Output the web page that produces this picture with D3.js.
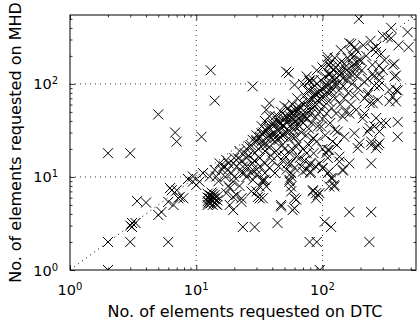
<!DOCTYPE html>
<html>
<head>
<meta charset="utf-8">
<script src="https://cdn.jsdelivr.net/npm/d3@7"></script>
<style>
  body { margin: 0; background: #fff; }
  text { font-family: "DejaVu Sans", sans-serif; fill: #000; }
</style>
</head>
<body>
<svg id="chart" width="418" height="327"></svg>
<script>
"use strict";

// axis labels and ticks
var xLabel = "No. of elements requested on DTC";
var yLabel = "No. of elements requested on MHD";
var majorTicks = [1, 10, 100];
var minorTicks = [2, 3, 4, 5, 6, 7, 8, 9, 20, 30, 40, 50, 60, 70, 80, 90, 200, 300, 400, 500];
var axisMin = 1, axisMax = 550;

// [DTC, MHD] pairs
// sparse points far from the diagonal
var outliers = [
    [2, 1], [95, 1],
    [2, 2], [3, 2], [6, 2], [79, 2], [90, 2], [235, 2],
    [2, 18], [3, 18],
    [5, 47], [6.8, 30], [7, 24], [11, 27], [13, 140], [14, 66], [28, 94],
    [44, 3.2], [23.4, 2.9], [29, 2.9], [104, 3.3], [117, 2.9], [163, 4.2], [243, 4.2],
    [47, 4.8], [60, 4.6], [58, 4.4], [22.8, 5.4], [47, 5], [62, 5.7],
    [194, 500], [472, 360], [480, 248], [394, 27], [394, 39], [243, 14], [163, 14], [136, 14.6]
];

// small values running along the diagonal
var lowDiagonal = [
    [3.1, 2.9], [3.1, 3.2], [3.3, 3.2], [3, 3],
    [3.4, 5.5], [4, 5.3],
    [5, 3.9], [5.3, 4.2], [6, 5.4], [6.6, 5], [6.2, 7.6], [7, 7.2], [7.2, 5.9], [7.9, 5.9], [7.4, 6.1], [6.4, 7.2],
    [8.6, 9.5], [9.4, 8.9], [10, 8.2], [10.6, 8.9], [12.8, 10.1], [14, 11.9], [15.3, 14], [16.8, 12.9],
    [17.3, 15.2], [14.4, 10.1], [11.3, 11], [9.4, 10.1]
];

// the solid blob near DTC 13, MHD 6
var blob = [
    [12.3, 5.0], [12.3, 5.5], [12.3, 6.0], [12.3, 6.6], [13, 5.2], [13, 5.7], [13, 6.3],
    [13.5, 5.0], [13.5, 5.5], [13.5, 6.1], [13.5, 6.6], [14, 5.3], [14, 5.8], [14, 6.4],
    [14.7, 5.0], [14.7, 5.6], [14.7, 6.2], [12.7, 5.9], [13.8, 5.9], [13.2, 6.8], [14.3, 5.1], [12.5, 5.3]
];

// points below the band, MHD between 4 and 15
var lowBand = [
    [17.3, 6.7], [19.6, 6.1], [19.6, 4.4], [18.4, 5], [20.8, 6.4], [22.8, 5.9], [18.4, 7.6], [19.6, 8.9],
    [30.8, 6.1], [31.8, 5.9], [33.7, 5.9], [30, 7], [27.3, 7], [33.7, 8.9], [35.9, 7.9], [31.8, 7.9],
    [56.5, 7.9], [56.5, 7], [60, 5.9], [54.8, 8.9], [84, 7], [91.8, 6.4], [89, 5.9], [94.5, 6.7],
    [113, 7.9], [124, 7.9], [124, 8.2], [117, 9.7], [120, 9.7], [113, 11.4], [110, 11], [100.5, 12.4],
    [145, 11.7], [70, 11.4], [80, 11.4], [56.5, 11], [56.5, 10.1], [53, 14], [34.8, 9.3], [28.1, 9.3],
    [54.8, 9.3], [33.7, 9.3], [27.3, 11], [23.4, 12.9],
    [23, 11], [25, 10], [28, 12], [30, 10.5], [32, 13], [35, 11], [38, 12.5], [42, 11], [45, 13],
    [48, 15], [52, 12], [56, 14], [60, 12.5], [25, 16], [29, 15], [40, 15], [44, 17], [50, 20],
    [55, 18], [62, 21], [66, 16], [70, 20], [75, 18], [68, 13],
    [72, 15], [78, 22], [85, 18], [90, 24], [95, 14], [100, 20], [105, 28], [110, 16], [120, 24],
    [125, 32], [130, 22], [75, 12], [88, 13], [100, 12.5], [80, 11], [145, 12], [79, 13.4], [62, 16.5],
    [107, 18], [110, 19.5], [80, 14], [89, 6.7], [84, 7.2], [113, 19.5], [136, 16.5]
];

// the main band along the diagonal
var mainBand = [
    [21.4, 15.9], [24.2, 18], [26.5, 21.2], [29.9, 25], [32.8, 29.5], [37, 34.8], [40.5, 37.8], [48.6, 36.2],
    [19.6, 14], [17.8, 11.9], [16.3, 12.9], [15, 9], [16, 12], [17, 10], [18, 14], [18, 8], [19, 11],
    [20, 16], [20, 10], [21, 13], [22, 19], [22, 8], [23, 15], [24, 11], [25, 20], [25, 13],
    [26, 17], [27, 22], [28, 14], [28, 25], [29, 18], [30, 12], [30, 28], [31, 20], [32, 16], [33, 24],
    [34, 30], [35, 14], [35, 19], [36, 26], [37, 33], [38, 21], [39, 17], [40, 28], [40, 36],
    [42, 24], [42, 45], [43, 19], [44, 32], [45, 38], [46, 27], [47, 50], [48, 22], [49, 35], [50, 42],
    [50, 17], [52, 30], [53, 55], [54, 26], [55, 45], [56, 36], [57, 20], [58, 60], [59, 32], [60, 48],
    [61, 27], [62, 40], [63, 70], [64, 23], [65, 52], [66, 35], [67, 44], [68, 30], [69, 62], [70, 38],
    [35, 40], [38, 45], [41, 30], [44, 40], [47, 33], [50, 58], [52, 38], [55, 31], [58, 42], [60, 35],
    [62, 55], [65, 43], [36, 22], [45, 25], [48, 28], [56, 50], [64, 36], [33, 35], [39, 26], [51, 46],
    [72, 75], [73, 50], [74, 28], [75, 42], [76, 85], [77, 58], [78, 33], [80, 65], [80, 47], [82, 38],
    [83, 90], [84, 55], [85, 26], [86, 72], [88, 44], [90, 100], [90, 60], [92, 35], [94, 80], [95, 50],
    [97, 110], [98, 68], [100, 42], [100, 88], [103, 58], [105, 120], [106, 75], [108, 48], [110, 95],
    [112, 65], [114, 130], [115, 38], [117, 82], [118, 55],
    [122, 140], [124, 100], [126, 70], [128, 48], [130, 115], [132, 160], [135, 85], [138, 60], [140, 130],
    [142, 175], [145, 95], [148, 70], [150, 150], [152, 50], [155, 110], [158, 190], [160, 80], [165, 130],
    [168, 60], [170, 210], [172, 100], [175, 160], [180, 75], [185, 230], [188, 120], [192, 90], [196, 180],
    [205, 140], [210, 260], [215, 105], [222, 200], [230, 80], [240, 290], [248, 160], [255, 120],
    [265, 220], [280, 95], [300, 330], [310, 180], [350, 400], [400, 260],
    [70, 100], [75, 120], [90, 140], [100, 150], [115, 170], [125, 190], [140, 230], [85, 110],
    [54, 130], [60, 97.6], [38, 62], [35.9, 52.5], [79, 106], [113, 160], [113, 125], [51.6, 135],
    [110, 181], [163, 274], [350, 310], [266, 250], [360, 160], [371, 120], [300, 141], [282, 125],
    [339, 86], [382, 86], [339, 65], [382, 65], [228, 76], [250, 62], [215, 48], [266, 43], [318, 38],
    [258, 35], [360, 73], [274, 22], [243, 24], [291, 37.8], [237, 33.4], [215, 70], [274, 67],
    [237, 62], [185, 52.5], [208, 42.8], [163, 48], [145, 44.5], [132, 30.7], [149, 27], [179, 29.5],
    [196, 23], [190, 20.4], [84, 26], [97.6, 34.8], [58, 27], [70, 44.5], [228, 30.7], [282, 30.7],
    [282, 23], [266, 20.4], [243, 22],
    [328, 318], [169, 269], [179, 248], [291, 210], [250, 237], [110, 194], [117, 151], [371, 164],
    [382, 123], [282, 157], [250, 128], [282, 109], [202, 178], [190, 151], [228, 113], [258, 96],
    [174, 194], [394, 85], [79, 109], [79, 85], [86.5, 78], [120, 118], [136, 139], [149, 164], [179, 128]
];

// the darkest part of the band, just under the diagonal
var denseCore = [
    [30, 24], [32, 27], [34, 22], [36, 31], [38, 28], [41, 35], [43, 27], [45, 44], [47, 38], [49, 29],
    [52, 44], [54, 40], [57, 48], [59, 38], [61, 52], [63, 45], [66, 56], [68, 40], [71, 60], [73, 45],
    [76, 66], [79, 52], [82, 70], [85, 60], [88, 78], [91, 66], [95, 85], [99, 72], [104, 95], [108, 82],
    [112, 100], [118, 90], [124, 110], [130, 98], [137, 125], [145, 115], [155, 140], [162, 120],
    [175, 150], [185, 170]
];

var svg = d3.select("#chart");
var MARGIN = { TOP: 15, RIGHT: 2, BOTTOM: 57, LEFT: 70 };
var WIDTH = 418 - MARGIN.LEFT - MARGIN.RIGHT;
var HEIGHT = 327 - MARGIN.TOP - MARGIN.BOTTOM;

var x = d3.scaleLog().domain([axisMin, axisMax]).range([MARGIN.LEFT, MARGIN.LEFT + WIDTH]);
var y = d3.scaleLog().domain([axisMin, axisMax]).range([MARGIN.TOP + HEIGHT, MARGIN.TOP]);

svg.append("clipPath").attr("id", "plotClip")
    .append("rect")
    .attr("x", MARGIN.LEFT).attr("y", MARGIN.TOP)
    .attr("width", WIDTH).attr("height", HEIGHT);

var plot = svg.append("g").attr("clip-path", "url(#plotClip)");

// dotted grid at the decades
var gridVals = [10, 100];
plot.selectAll(".vgrid").data(gridVals).enter().append("line")
    .attr("x1", function(d) { return x(d); }).attr("x2", function(d) { return x(d); })
    .attr("y1", MARGIN.TOP).attr("y2", MARGIN.TOP + HEIGHT)
    .attr("stroke", "#000").attr("stroke-width", 0.8).attr("stroke-dasharray", "1,4");
plot.selectAll(".hgrid").data(gridVals).enter().append("line")
    .attr("y1", function(d) { return y(d); }).attr("y2", function(d) { return y(d); })
    .attr("x1", MARGIN.LEFT).attr("x2", MARGIN.LEFT + WIDTH)
    .attr("stroke", "#000").attr("stroke-width", 0.8).attr("stroke-dasharray", "1,4");

// y = x reference line
plot.append("path")
    .datum([axisMin, axisMax])
    .attr("d", d3.line().x(function(d) { return x(d); }).y(function(d) { return y(d); }))
    .attr("fill", "none").attr("stroke", "#000").attr("stroke-width", 1)
    .attr("stroke-dasharray", "1,4");

// markers
var allPoints = outliers.concat(lowDiagonal, blob, lowBand, mainBand, denseCore);
plot.selectAll(".pt").data(allPoints).enter().append("path")
    .attr("class", "pt")
    .attr("transform", function(d) { return "translate(" + x(d[0]) + "," + y(d[1]) + ")"; })
    .attr("d", "M-5,-5L5,5M-5,5L5,-5")
    .attr("fill", "none").attr("stroke", "#000").attr("stroke-width", 1);

// ticks on all four sides, pointing inward
var sides = [
    { axis: d3.axisBottom(x), t: "translate(0," + (MARGIN.TOP + HEIGHT) + ")" },
    { axis: d3.axisTop(x), t: "translate(0," + MARGIN.TOP + ")" },
    { axis: d3.axisLeft(y), t: "translate(" + MARGIN.LEFT + ",0)" },
    { axis: d3.axisRight(y), t: "translate(" + (MARGIN.LEFT + WIDTH) + ",0)" }
];
sides.forEach(function(s) {
    svg.append("g").attr("transform", s.t)
        .call(s.axis.tickValues(majorTicks).tickSize(-5).tickFormat(""))
        .call(function(g) { g.select(".domain").remove(); });
    svg.append("g").attr("transform", s.t)
        .call(s.axis.tickValues(minorTicks).tickSize(-2.5).tickFormat(""))
        .call(function(g) { g.select(".domain").remove(); });
});
svg.selectAll(".tick line").attr("stroke", "#000").attr("stroke-width", 0.8);

// frame
svg.append("rect")
    .attr("x", MARGIN.LEFT).attr("y", MARGIN.TOP)
    .attr("width", WIDTH).attr("height", HEIGHT)
    .attr("fill", "none").attr("stroke", "#000").attr("stroke-width", 1);

// tick labels 10^n
var addPower = function(sel)
{
    sel.append("tspan").text("10");
    sel.append("tspan").attr("dy", "-0.5em").attr("font-size", "10px")
        .text(function(d) { return Math.round(Math.log10(d)); });
};

svg.selectAll(".xlab").data(majorTicks).enter().append("text")
    .attr("x", function(d) { return x(d); })
    .attr("y", 295)
    .attr("text-anchor", "middle")
    .attr("font-size", "14.5px")
    .call(addPower);

svg.selectAll(".ylab").data(majorTicks).enter().append("text")
    .attr("x", 58)
    .attr("y", function(d) { return y(d) + 5.5; })
    .attr("text-anchor", "end")
    .attr("font-size", "14.5px")
    .call(addPower);

// axis titles
svg.append("text")
    .attr("x", MARGIN.LEFT + WIDTH / 2 + 2)
    .attr("y", 317)
    .attr("text-anchor", "middle")
    .attr("font-size", "16px")
    .text(xLabel);

svg.append("text")
    .attr("transform", "translate(21," + (MARGIN.TOP + HEIGHT / 2) + ") rotate(-90)")
    .attr("text-anchor", "middle")
    .attr("font-size", "16px")
    .text(yLabel);
</script>
</body>
</html>
